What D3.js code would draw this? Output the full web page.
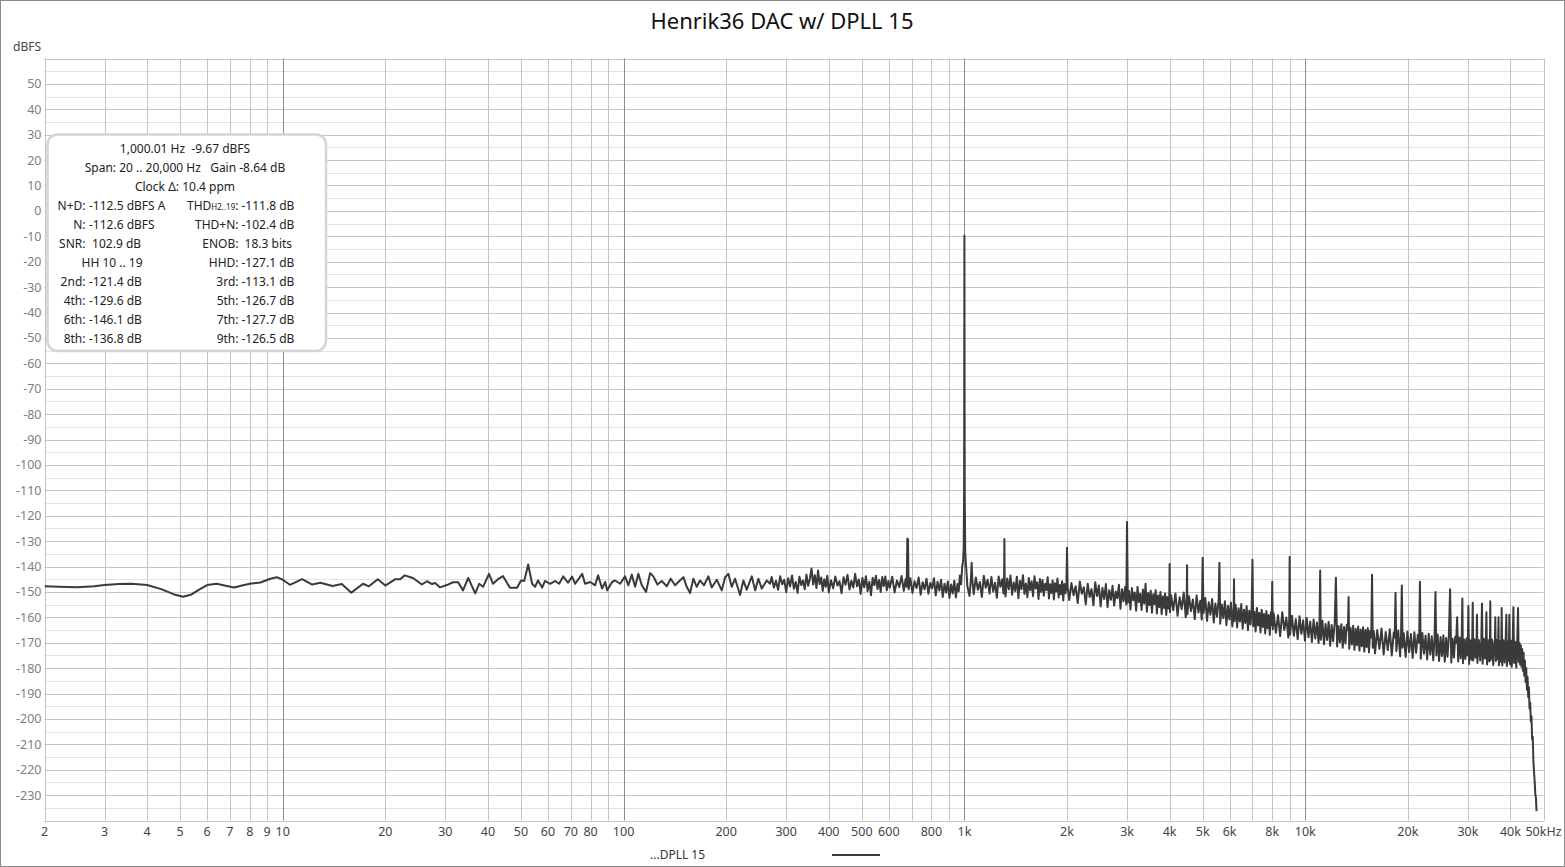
<!DOCTYPE html>
<html><head><meta charset="utf-8">
<script src="https://cdn.jsdelivr.net/npm/d3@7"></script>
<style>
html,body{margin:0;padding:0;background:#fff;}
svg{display:block;font-family:"Noto Sans",sans-serif;}
</style></head><body>
<svg id="chart" width="1565" height="867"></svg>
<script>
const chartTitle = "Henrik36 DAC w/ DPLL 15";
const legendLabel = "...DPLL 15";
const yUnit = "dBFS";
const xTickValues = [2,3,4,5,6,7,8,9,10,20,30,40,50,60,70,80,100,200,300,400,500,600,800,1000,2000,3000,4000,5000,6000,8000,10000,20000,30000,40000,50000];
const xTickLabels = ["2","3","4","5","6","7","8","9","10","20","30","40","50","60","70","80","100","200","300","400","500","600","800","1k","2k","3k","4k","5k","6k","8k","10k","20k","30k","40k","50kHz"];
const yTickValues = [50,40,30,20,10,0,-10,-20,-30,-40,-50,-60,-70,-80,-90,-100,-110,-120,-130,-140,-150,-160,-170,-180,-190,-200,-210,-220,-230];

// [frequency Hz, level dBFS]
const lowSweep = [[2,-147.8],[2.2,-148.0],[2.5,-148.2],[2.8,-147.8],[3.0,-147.3],[3.3,-146.9],[3.6,-146.8],[4.0,-147.3],[4.4,-148.9],[4.8,-151.0],[5.1,-151.9],[5.4,-151.0],[5.7,-149.0],[6.0,-147.3],[6.4,-146.8],[6.8,-147.6],[7.2,-148.3],[7.6,-147.5],[8.0,-146.8],[8.6,-146.3],[9.2,-144.8],[9.6,-144.2],[10.0,-145.2],[10.5,-147.2],[11.4,-145.0],[12.2,-147.1],[12.9,-146.4],[14.0,-147.7],[14.9,-146.9],[15.9,-150.3],[17.2,-146.8],[17.9,-147.8],[19.0,-145.0],[20.0,-147.5],[21.4,-145.0],[22.1,-145.0],[22.8,-143.5],[24.1,-144.5],[25.6,-147.1],[26.5,-145.8],[27.4,-146.9],[28.0,-146.5],[28.9,-148.2],[30.3,-147.3],[31.6,-146.2],[32.7,-146.2],[33.8,-149.4],[35.0,-144.5],[36.7,-150.6],[37.7,-146.8],[38.7,-148.0],[40.3,-142.9],[41.4,-146.8],[42.8,-145.0],[44.3,-143.8],[46.4,-148.4],[48.7,-148.4],[50.0,-145.5],[51.1,-145.7],[52.5,-139.2],[53.9,-146.8],[55.0,-148.0],[56.1,-145.5],[57.7,-148.3],[58.8,-145.7],[60.9,-146.8],[63.0,-145.7],[64.7,-146.8],[66.5,-143.9],[68.7,-146.4],[70.6,-144.0],[72.1,-146.8],[75.6,-142.9],[77.1,-146.8],[79.8,-146.1],[82.5,-147.4],[84.2,-143.5],[86.5,-148.7],[88.3,-146.1],[89.5,-149.4],[92.5,-146.1],[94.4,-145.5],[97.7,-146.8]];

const noise100to270 = [[101,-143.9],[103.3,-147.4],[105.7,-143.2],[108.1,-148.0],[110.5,-142.9],[113.1,-147.4],[116.4,-150.0],[119.6,-142.6],[122.3,-143.9],[125.7,-147.1],[129.4,-145.7],[133.9,-147.8],[137.5,-144.8],[141.6,-147.4],[144.8,-146.1],[149.8,-144.2],[153.2,-148.0],[156.7,-150.4],[160.2,-144.8],[163.9,-148.0],[167.6,-145.5],[172.2,-147.4],[177.3,-143.9],[181.4,-148.3],[187.7,-145.2],[194.1,-149.4],[198.5,-144.2],[203.0,-142.9],[207.6,-148.0],[212.4,-144.8],[219.6,-151.2],[224.6,-145.5],[229.8,-149.1],[237.8,-143.9],[243.2,-149.4],[248.6,-144.8],[254.4,-148.7],[263.1,-145.5],[269.1,-146.8]];

const noise270to600 = [[272,-144.1],[276,-148.3],[280,-145.6],[284,-149.2],[288,-143.8],[292,-147.0],[296,-145.2],[300,-150.1],[304,-144.6],[308,-147.9],[312,-143.5],[316,-148.8],[320,-146.1],[324,-150.4],[328,-144.0],[332,-147.3],[336,-145.5],[340,-149.0],[344,-143.2],[348,-147.6],[352,-144.8],[356,-140.8],[360,-147.1],[364,-143.4],[368,-148.5],[372,-141.6],[376,-146.9],[380,-144.3],[384,-149.6],[388,-145.0],[392,-148.0],[396,-143.6],[400,-150.2],[406,-145.4],[412,-148.6],[418,-143.9],[424,-147.5],[430,-145.8],[436,-150.5],[442,-144.2],[448,-147.2],[454,-143.3],[460,-149.1],[466,-145.6],[472,-148.3],[478,-142.9],[484,-147.8],[490,-145.1],[496,-150.8],[502,-144.5],[508,-148.2],[514,-143.8],[520,-149.7],[526,-146.0],[532,-151.3],[538,-144.4],[544,-147.4],[550,-143.6],[556,-148.9],[562,-145.3],[568,-150.0],[574,-144.1],[580,-147.7],[586,-143.9],[592,-149.4],[598,-145.7]];

const noise600to1k = [[604,-148.4],[614,-144.0],[624,-150.2],[634,-145.5],[644,-148.1],[654,-143.7],[664,-149.6],[672,-145.0],[677,-148.0],[680,-129.0],[683,-129.3],[686,-149.0],[694,-144.6],[704,-150.4],[714,-145.8],[724,-148.5],[734,-144.3],[744,-151.1],[754,-146.2],[764,-149.0],[774,-144.8],[784,-150.7],[794,-146.5],[804,-148.6],[814,-144.6],[824,-151.4],[834,-146.0],[844,-149.5],[854,-145.2],[864,-152.0],[874,-146.8],[884,-150.3],[894,-145.9],[904,-152.4],[914,-147.1],[924,-150.6],[934,-145.6],[944,-152.2],[954,-146.9],[962,-149.8],[970,-143.5],[978,-147.0],[985,-140.0],[991,-138.0],[995,-133.0],[998,-110.0],[1000,-9.67],[1002,-110.0],[1005,-133.5],[1009,-138.0],[1014,-142.0]];

const noise1kto2k = [[1020,-147.8],[1035,-151.6],[1045,-144.8],[1050,-138.5],[1055,-145.5],[1065,-150.9],[1080,-144.3],[1095,-149.2],[1110,-146.1],[1125,-152.0],[1140,-143.6],[1155,-148.4],[1170,-145.2],[1185,-150.7],[1200,-144.1],[1215,-149.9],[1230,-146.4],[1245,-152.3],[1260,-143.9],[1275,-148.0],[1290,-145.0],[1302,-150.6],[1307,-146.0],[1310,-129.2],[1313,-146.5],[1320,-151.8],[1335,-144.7],[1350,-149.0],[1365,-143.5],[1380,-151.1],[1395,-146.3],[1410,-149.7],[1425,-144.0],[1440,-152.5],[1455,-145.6],[1470,-148.9],[1485,-143.4],[1500,-150.8],[1515,-146.7],[1530,-152.1],[1545,-144.5],[1560,-149.4],[1575,-145.9],[1590,-151.7],[1605,-143.8],[1620,-148.6],[1635,-146.2],[1650,-152.8],[1665,-144.9],[1680,-150.0],[1695,-145.3],[1710,-151.5],[1725,-146.8],[1740,-149.3],[1755,-144.2],[1770,-152.6],[1785,-147.0],[1800,-150.4],[1815,-145.5],[1830,-153.0],[1845,-146.6],[1860,-149.8],[1875,-144.7],[1890,-152.2],[1905,-147.3],[1920,-150.9],[1935,-145.8],[1950,-153.4],[1965,-146.9],[1980,-150.5],[1992,-147.5],[2000,-132.6],[2008,-148.0]];

const noise2kto4k = [[2030,-153.2],[2060,-146.5],[2090,-151.3],[2120,-147.8],[2150,-154.4],[2180,-145.9],[2210,-150.7],[2240,-148.2],[2270,-154.9],[2300,-146.8],[2330,-152.0],[2360,-148.9],[2390,-155.3],[2420,-146.2],[2450,-151.6],[2480,-147.5],[2510,-155.7],[2540,-148.4],[2570,-152.8],[2600,-146.9],[2630,-156.0],[2660,-149.3],[2690,-153.1],[2720,-147.6],[2750,-155.4],[2780,-149.8],[2810,-152.5],[2840,-147.2],[2870,-156.6],[2900,-149.0],[2930,-153.7],[2960,-148.1],[2985,-155.0],[3000,-122.5],[3015,-154.2],[3040,-149.6],[3070,-156.9],[3100,-148.5],[3130,-153.3],[3160,-150.2],[3190,-157.4],[3220,-148.0],[3250,-154.0],[3280,-150.7],[3310,-157.1],[3340,-149.1],[3370,-154.6],[3400,-146.8],[3430,-157.8],[3460,-150.4],[3490,-155.2],[3520,-149.5],[3550,-158.2],[3580,-150.9],[3610,-154.8],[3640,-149.3],[3670,-158.5],[3700,-151.4],[3730,-155.9],[3760,-150.0],[3790,-158.8],[3820,-151.8],[3850,-156.3],[3880,-150.6],[3910,-159.1],[3940,-152.0],[3970,-156.5],[3990,-152.5],[4000,-139.0],[4010,-158.0]];

const noise4kto8k = [[4040,-151.3],[4100,-157.2],[4160,-150.6],[4220,-159.4],[4280,-152.1],[4340,-156.8],[4400,-150.2],[4460,-160.0],[4490,-152.5],[4500,-139.5],[4510,-158.8],[4560,-151.7],[4620,-157.6],[4680,-153.0],[4740,-160.7],[4800,-151.4],[4860,-158.1],[4920,-153.5],[4970,-160.9],[5000,-136.6],[5030,-158.3],[5090,-152.4],[5150,-161.4],[5210,-154.1],[5270,-159.0],[5330,-152.8],[5390,-162.0],[5450,-154.6],[5510,-159.7],[5570,-153.3],[5600,-138.5],[5630,-162.5],[5690,-155.0],[5750,-160.3],[5810,-153.7],[5870,-163.1],[5930,-155.5],[5990,-160.8],[6050,-154.2],[6110,-163.6],[6165,-156.0],[6180,-145.0],[6195,-161.5],[6250,-155.1],[6310,-164.0],[6370,-156.4],[6430,-161.7],[6490,-154.8],[6550,-164.5],[6610,-157.0],[6670,-162.2],[6730,-155.6],[6790,-165.1],[6850,-157.4],[6910,-162.8],[6965,-156.0],[7000,-137.3],[7035,-163.5],[7090,-157.8],[7150,-165.6],[7210,-156.3],[7270,-163.2],[7330,-158.2],[7390,-166.0],[7450,-157.0],[7510,-163.8],[7570,-158.7],[7630,-166.4],[7690,-157.5],[7750,-164.3],[7810,-159.1],[7870,-166.9],[7930,-158.0],[7970,-163.0],[8000,-146.0],[8030,-164.7]];

const noise8kto16k = [[8080,-158.5],[8200,-166.1],[8320,-159.2],[8440,-167.4],[8560,-158.0],[8680,-165.0],[8800,-160.1],[8920,-168.0],[8975,-160.5],[9000,-136.3],[9025,-166.8],[9140,-159.4],[9260,-167.3],[9380,-160.8],[9500,-168.6],[9620,-159.6],[9740,-166.5],[9860,-161.2],[9980,-169.2],[10100,-160.3],[10220,-167.8],[10340,-161.7],[10460,-169.7],[10580,-160.9],[10700,-168.3],[10820,-162.0],[10940,-170.1],[11010,-162.5],[11060,-141.6],[11110,-168.8],[11230,-161.4],[11350,-170.6],[11470,-162.6],[11590,-168.9],[11710,-161.8],[11830,-171.2],[11950,-163.0],[12070,-169.4],[12200,-162.3],[12300,-144.4],[12400,-171.5],[12520,-163.4],[12640,-169.8],[12760,-162.7],[12880,-172.0],[13000,-163.8],[13120,-170.3],[13240,-162.9],[13340,-165.0],[13400,-152.0],[13460,-172.4],[13580,-164.1],[13700,-170.7],[13820,-163.3],[13940,-172.8],[14060,-164.5],[14180,-171.0],[14300,-163.6],[14420,-173.1],[14540,-164.8],[14660,-171.4],[14780,-163.9],[14900,-173.5],[15020,-165.0],[15140,-171.7],[15260,-164.2],[15380,-173.8],[15500,-165.3],[15620,-168.0],[15700,-143.2],[15780,-172.0],[15900,-165.5]];

const noise16kto32k = [[16020,-174.2],[16260,-165.0],[16500,-172.4],[16740,-164.4],[16980,-174.6],[17220,-165.8],[17460,-172.9],[17700,-164.7],[17940,-175.0],[18180,-166.0],[18300,-168.0],[18400,-150.3],[18500,-173.3],[18740,-165.2],[18980,-175.3],[19100,-167.0],[19200,-147.5],[19300,-172.0],[19460,-166.3],[19700,-175.6],[19940,-165.6],[20180,-173.7],[20420,-166.6],[20660,-176.0],[20900,-165.9],[21140,-174.0],[21380,-166.9],[21580,-170.0],[21700,-146.0],[21820,-176.3],[22060,-166.2],[22300,-174.3],[22540,-167.2],[22780,-176.6],[23020,-166.5],[23260,-174.6],[23500,-167.5],[23740,-176.9],[23950,-168.0],[24100,-150.0],[24250,-175.0],[24460,-166.8],[24700,-177.2],[24940,-167.8],[25180,-175.2],[25420,-167.1],[25660,-177.5],[25900,-168.1],[26140,-175.5],[26380,-167.4],[26600,-149.0],[26820,-177.8],[27060,-168.4],[27300,-175.8],[27540,-167.7],[27700,-170.0],[27900,-160.0],[28100,-177.4],[28340,-168.0],[28580,-176.1],[28780,-167.5],[28900,-152.6],[29020,-178.1],[29260,-168.7],[29500,-176.4],[29740,-168.3],[29950,-175.0],[30100,-155.6],[30250,-178.4],[30490,-169.0],[30750,-176.7],[30900,-168.2],[31000,-154.3],[31100,-177.0],[31340,-168.6],[31600,-175.9],[31800,-169.5],[31900,-159.0],[32000,-178.0]];

const noise32kto48k = [[32300,-168.9],[32620,-177.0],[32850,-169.2],[33000,-154.6],[33150,-178.3],[33420,-168.4],[33700,-176.2],[33880,-169.6],[34000,-158.0],[34150,-178.6],[34450,-169.0],[34700,-177.4],[34820,-170.2],[34900,-153.7],[35000,-176.8],[35300,-168.7],[35600,-178.8],[35900,-169.4],[36000,-172.0],[36100,-160.0],[36250,-177.2],[36500,-168.9],[36700,-176.5],[36800,-171.0],[36900,-160.0],[37000,-178.9],[37250,-169.3],[37500,-177.5],[37600,-170.5],[37700,-156.3],[37850,-179.0],[38150,-169.0],[38450,-177.8],[38700,-169.8],[38900,-159.0],[39050,-179.2],[39300,-169.5],[39500,-177.1],[39600,-170.4],[39700,-159.0],[39850,-178.4],[40100,-169.2],[40350,-179.5],[40600,-170.1],[40800,-156.0],[41000,-178.0],[41300,-169.7],[41600,-179.8],[41850,-170.6],[42100,-156.3],[42300,-177.5],[42500,-170.0],[42700,-178.6],[42900,-171.0],[43100,-179.5],[43300,-172.5],[43500,-181.0],[43700,-174.0],[43900,-183.0],[44100,-177.0],[44300,-185.5],[44500,-180.0],[44700,-188.5],[44900,-183.5],[45100,-191.5],[45300,-187.5],[45500,-196.0],[45700,-193.5],[45900,-201.0],[46100,-199.0],[46300,-208.0],[46500,-207.0],[46700,-216.5],[46900,-221.0],[47100,-224.5],[47300,-229.5],[47500,-231.0],[47700,-236.3]];

const infoHeader = ["1,000.01 Hz  -9.67 dBFS", "Span: 20 .. 20,000 Hz   Gain -8.64 dB", "Clock \u0394: 10.4 ppm"];
const infoLeft = [["N+D:","-112.5 dBFS A"],["N:","-112.6 dBFS"],["SNR:"," 102.9 dB"],["","HH 10 .. 19"],["2nd:","-121.4 dB"],["4th:","-129.6 dB"],["6th:","-146.1 dB"],["8th:","-136.8 dB"]];
const infoRight = [["THD|H2..19|:","-111.8 dB"],["THD+N:","-102.4 dB"],["ENOB:"," 18.3 bits"],["HHD:","-127.1 dB"],["3rd:","-113.1 dB"],["5th:","-126.7 dB"],["7th:","-127.7 dB"],["9th:","-126.5 dB"]];

const series = [].concat(lowSweep, noise100to270, noise270to600, noise600to1k, noise1kto2k, noise2kto4k, noise4kto8k, noise8kto16k, noise16kto32k, noise32kto48k);

const svg = d3.select("#chart");
const W = 1565, H = 867;
const L = 44.5, R = 1543.5, T = 58.5, B = 820.5;
const x = d3.scaleLog().domain([2, 50000]).range([L, R]);
const y = d3.scaleLinear().domain([-240, 60]).range([B, T]);

svg.append("rect").attr("x",0).attr("y",0).attr("width",W).attr("height",H).attr("fill","#fff");
svg.append("rect").attr("x",0.5).attr("y",0.5).attr("width",W-1).attr("height",H-1).attr("fill","none").attr("stroke","#8a8a8a");

// grid
const yGrid = d3.range(-240, 61, 5);
const gGrid = svg.append("g");
gGrid.selectAll("line.h").data(yGrid.filter(d => d % 10 !== 0)).join("line")
  .attr("x1", L).attr("x2", R)
  .attr("y1", d => Math.round(y(d)) + 0.5).attr("y2", d => Math.round(y(d)) + 0.5)
  .attr("stroke", "#e2e2e2").attr("stroke-width", 1);
gGrid.selectAll("line.hm").data(yGrid.filter(d => d % 10 === 0)).join("line")
  .attr("x1", L).attr("x2", R)
  .attr("y1", d => Math.round(y(d)) + 0.5).attr("y2", d => Math.round(y(d)) + 0.5)
  .attr("stroke", "#c4c4c4").attr("stroke-width", 1);
const xGrid = x.ticks();
const isDecade = d => Math.abs(Math.log10(d) - Math.round(Math.log10(d))) < 1e-9;
gGrid.selectAll("line.v").data(xGrid.filter(d => !isDecade(d))).join("line")
  .attr("y1", T).attr("y2", B)
  .attr("x1", d => Math.round(x(d)) + 0.5).attr("x2", d => Math.round(x(d)) + 0.5)
  .attr("stroke", "#c4c4c4").attr("stroke-width", 1);
gGrid.selectAll("line.vd").data(xGrid.filter(isDecade)).join("line")
  .attr("y1", T).attr("y2", B)
  .attr("x1", d => Math.round(x(d)) + 0.5).attr("x2", d => Math.round(x(d)) + 0.5)
  .attr("stroke", "#8c8c8c").attr("stroke-width", 1);

// axes labels
svg.append("g").selectAll("text").data(yTickValues).join("text")
  .attr("x", 41.5).attr("y", d => y(d) + 4.5)
  .attr("text-anchor", "end").attr("font-size", 12.5).attr("fill", "#808080")
  .text(d => String(d));
svg.append("g").selectAll("text").data(xTickValues).join("text")
  .attr("x", d => x(d)).attr("y", 836)
  .attr("text-anchor", "middle").attr("font-size", 12.5).attr("fill", "#444")
  .text((d, i) => xTickLabels[i]);
svg.append("text").attr("x", 13).attr("y", 51).attr("font-size", 12).attr("fill", "#444").text(yUnit);

// title
svg.append("text").attr("x", 782).attr("y", 29).attr("text-anchor", "middle")
  .attr("font-size", 22).attr("fill", "#111").text(chartTitle);

// trace
svg.append("clipPath").attr("id", "clip").append("rect")
  .attr("x", L).attr("y", T).attr("width", R - L).attr("height", B - T);
const line = d3.line().x(d => x(d[0])).y(d => y(d[1]));
svg.append("path").datum(series).attr("clip-path", "url(#clip)")
  .attr("d", line).attr("fill", "none").attr("stroke", "#3a3a3a")
  .attr("stroke-width", 2).attr("stroke-linejoin", "round");

// info box
const box = svg.append("g");
box.append("rect").attr("x", 47.5).attr("y", 134.5).attr("width", 278.5).attr("height", 216.5)
  .attr("rx", 10).attr("fill", "#fff").attr("stroke", "#d4d4d4").attr("stroke-width", 2.5);
const rowY = i => 152.5 + i * 19;
box.selectAll("text.h").data(infoHeader).join("text")
  .attr("x", 185).attr("y", (d, i) => rowY(i)).attr("text-anchor", "middle")
  .attr("font-size", 12).attr("fill", "#222").style("white-space", "pre").text(d => d);
infoLeft.forEach((r, i) => {
  const yy = rowY(i + 3);
  if (r[0] === "") {
    box.append("text").attr("x", 81.5).attr("y", yy).attr("font-size", 12).attr("fill", "#222").text(r[1]);
  } else {
    box.append("text").attr("x", 85.5).attr("y", yy).attr("text-anchor", "end").attr("font-size", 12).attr("fill", "#222").text(r[0]);
    box.append("text").attr("x", 89).attr("y", yy).attr("font-size", 12).attr("fill", "#222").style("white-space", "pre").text(r[1]);
  }
});
infoRight.forEach((r, i) => {
  const yy = rowY(i + 3);
  const t = box.append("text").attr("x", 238.5).attr("y", yy).attr("text-anchor", "end").attr("font-size", 12).attr("fill", "#222");
  const parts = r[0].split("|");
  if (parts.length === 3) {
    t.append("tspan").text(parts[0]);
    t.append("tspan").attr("font-size", 8).text(parts[1]);
    t.append("tspan").text(parts[2]);
  } else {
    t.text(r[0]);
  }
  box.append("text").attr("x", 241.5).attr("y", yy).attr("font-size", 12).attr("fill", "#222").style("white-space", "pre").text(r[1]);
});

// legend
svg.append("text").attr("x", 650).attr("y", 858.5).attr("font-size", 12).attr("fill", "#333").text(legendLabel);
svg.append("line").attr("x1", 832).attr("x2", 880).attr("y1", 855).attr("y2", 855)
  .attr("stroke", "#3a3a3a").attr("stroke-width", 2);
</script>
</body></html>
